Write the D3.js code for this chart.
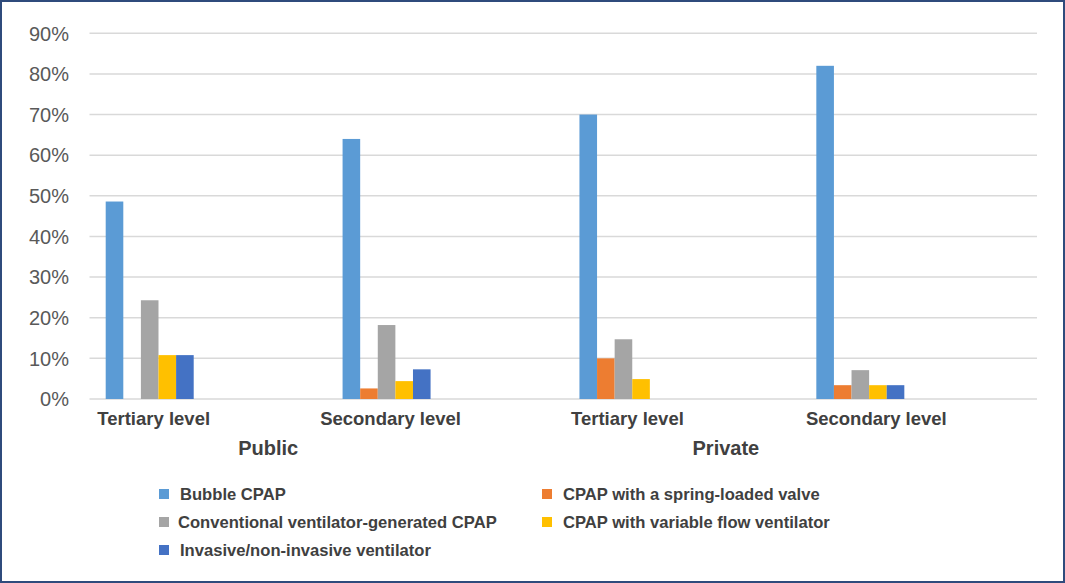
<!DOCTYPE html>
<html>
<head>
<meta charset="utf-8">
<script src="https://cdn.jsdelivr.net/npm/d3@7/dist/d3.min.js"></script>
<style>
html,body{margin:0;padding:0;background:#fff;}
svg{display:block;font-family:"Liberation Sans",Arial,sans-serif;}
</style>
</head>
<body>
<script>
const categories = ["Tertiary level","Secondary level","Tertiary level","Secondary level"];
const sectors = ["Public","Private"];
const sectorOfCategory = [0,0,1,1];
const seriesNames = ["Bubble CPAP","CPAP with a spring-loaded valve","Conventional ventilator-generated CPAP","CPAP with variable flow ventilator","Invasive/non-invasive ventilator"];
const seriesColors = ["#5B9BD5","#ED7D31","#A5A5A5","#FFC000","#4472C4"];
const bubbleCPAP     = [48.6, 64.0, 70.0, 82.0];
const springValve    = [0,    2.6,  10.0, 3.4];
const conventional   = [24.3, 18.2, 14.7, 7.1];
const variableFlow   = [10.8, 4.4,  4.9,  3.4];
const invasive       = [10.8, 7.3,  0,    3.4];
const seriesValues = [bubbleCPAP, springValve, conventional, variableFlow, invasive];
const yTicks = [0,10,20,30,40,50,60,70,80,90];

const W = 1065, H = 583;
const svg = d3.select("body").append("svg").attr("width", W).attr("height", H);

// frame
svg.append("rect").attr("x",1).attr("y",1).attr("width",W-2).attr("height",H-2)
  .attr("fill","#fff").attr("stroke","#2F4B7C").attr("stroke-width",2);

const plotL = 89.5, plotR = 1037;
const y = d3.scaleLinear().domain([0,90]).range([399,33.3]);
const x0 = d3.scaleBand().domain(d3.range(categories.length)).range([plotL,plotR]).padding(0);
const x1 = d3.scaleBand().domain(d3.range(seriesNames.length)).range([16.2, 16.2+88]).padding(0);

// gridlines
svg.append("g").selectAll("line").data(yTicks).join("line")
  .attr("x1",plotL).attr("x2",plotR)
  .attr("y1",d=>y(d)).attr("y2",d=>y(d))
  .attr("stroke","#D9D9D9").attr("stroke-width",1.5);

// y labels
svg.append("g").selectAll("text").data(yTicks).join("text")
  .attr("x",69).attr("y",d=>y(d)).attr("dy","0.36em")
  .attr("text-anchor","end").attr("font-size",20).attr("fill","#595959")
  .text(d=>d+"%");

// bars
const rows = [];
seriesValues.forEach((vals,s)=>vals.forEach((v,c)=>rows.push({s,c,v})));
svg.append("g").selectAll("rect").data(rows.filter(d=>d.v>0)).join("rect")
  .attr("x",d=>x0(d.c)+x1(d.s))
  .attr("width",x1.bandwidth())
  .attr("y",d=>y(d.v))
  .attr("height",d=>y(0)-y(d.v))
  .attr("fill",d=>seriesColors[d.s]);

// category labels
const groupCenter = c => x0(c)+16.2+44;
svg.append("g").selectAll("text").data(categories).join("text")
  .attr("x",(d,i)=>groupCenter(i)+4+(i===3?12:0)).attr("y",418).attr("dy","0.36em")
  .attr("text-anchor","middle").attr("font-size",18.5).attr("font-weight","bold").attr("fill","#404040")
  .text(d=>d);

// sector labels
svg.append("g").selectAll("text").data(sectors).join("text")
  .attr("x",(d,i)=>{const cs=d3.range(categories.length).filter(c=>sectorOfCategory[c]===i);return d3.mean(cs,groupCenter)-(i===1?16:0);})
  .attr("y",448).attr("dy","0.36em")
  .attr("text-anchor","middle").attr("font-size",20).attr("font-weight","bold").attr("fill","#404040")
  .text(d=>d);

// legend
const legendPos = [[159,494],[542,494],[159,522],[542,522],[159,550]];
const lg = svg.append("g").selectAll("g").data(seriesNames).join("g")
  .attr("transform",(d,i)=>`translate(${legendPos[i][0]},${legendPos[i][1]})`);
lg.append("rect").attr("x",0).attr("y",-5).attr("width",10).attr("height",10)
  .attr("fill",(d,i)=>seriesColors[i]);
lg.append("text").attr("x",(d,i)=>i===2?19:21).attr("y",0).attr("dy","0.36em")
  .attr("font-size",16.6).attr("font-weight","bold").attr("fill","#404040")
  .text(d=>d);
</script>
</body>
</html>
